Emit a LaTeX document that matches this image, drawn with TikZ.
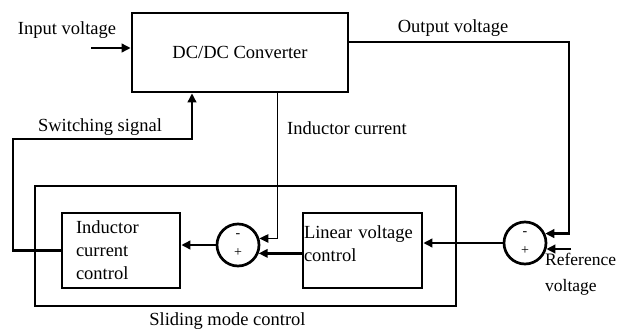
\documentclass[tikz,border=0pt]{standalone}
\usepackage{fontspec}
\setmainfont{Liberation Serif}
\usepackage{tikz}
\usetikzlibrary{positioning, arrows.meta, calc}

\begin{document}
\begin{tikzpicture}[x=1pt, y=-1pt,
        every node/.style={font=\fontsize{18.5}{23}\selectfont, inner sep=0pt},
        blockBox/.style={rectangle, draw, line width=2.7pt, align=left},
        sumC/.style={circle, draw, line width=2.7pt, minimum size=42pt, align=center,
                     font=\fontsize{14}{19}\selectfont},
        arr/.style={line width=2.7pt, -{Triangle[length=9pt, width=8.5pt]}},
        thinArr/.style={line width=1pt, -{Triangle[length=9pt, width=8.5pt]}},
      ]
        \useasboundingbox (0,0) rectangle (619,330);

        % blocks
        \node[blockBox, align=center, minimum width=216pt, minimum height=79pt] (conv) at (240,52.5) {DC/DC Converter};
        \node[blockBox, minimum width=421pt, minimum height=120pt] (smc) at (245.5,246) {};
        \node[below=5pt of smc, xshift=-18pt] (smcLbl) {Sliding mode control};

        \node[blockBox, text width=90pt, inner xsep=14pt, minimum height=75pt] (icc) at (121,250.5)
              {Inductor\\current\\control};
        \node[blockBox, text width=117pt, inner xsep=1pt, minimum height=75pt] (lvc) at (362.5,250.5)
              {Linear voltage\\control\\[-9pt]\mbox{}};

        \node[sumC] (sumA) at (238,245) {-\\+};
        \node[sumC] (sumB) at (525,243) {-\\+};

        % labels
        \node (inLbl) at (67,30) {Input voltage};
        \node (outLbl) at (453,28) {Output voltage};
        \node (swLbl) at (100,127) {Switching signal};
        \node (ilLbl) at (347,128) {Inductor current};
        \node[align=left, anchor=north west, font=\fontsize{17.5}{26}\selectfont] (refLbl) at (545,253)
              {Reference\\voltage};

        \coordinate (inpS) at (91,48);
        \coordinate (outC) at (569,42);
        \coordinate (refS) at (571,249);
        \coordinate (ilX) at (277,0);
        \coordinate (swL) at (13,139);
        \coordinate (swR) at (192,139);

        % signal paths
        \draw[arr] (inpS) -- (inpS -| conv.west);
        \draw[arr] (conv.east |- outC) -- (outC) |- (sumB.25);
        \draw[arr] (refS) -- (refS -| sumB.-17);
        \draw[arr] (sumB.west) -- (sumB.west -| lvc.east);
        \draw[arr] (lvc.west |- sumA.-22) -- (sumA.-22);
        \draw[thinArr] (conv.south -| ilX) |- (sumA.17);
        \draw[arr] (sumA.west) -- (sumA.west -| icc.east);
        \draw[arr] (icc.west) -| (swL) -- (swR) -- (conv.south -| swR);
      \end{tikzpicture}
\end{document}
